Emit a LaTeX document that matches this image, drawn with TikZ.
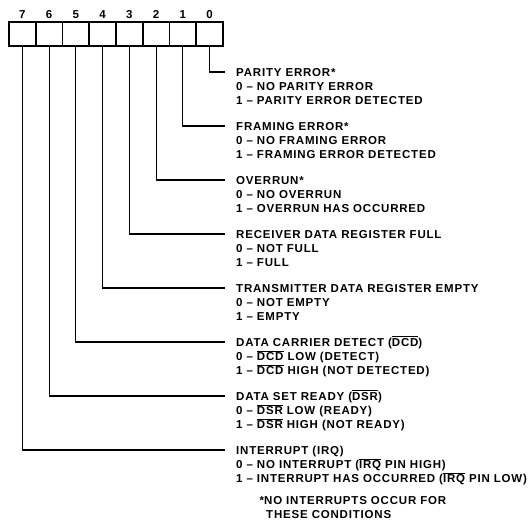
\documentclass[tikz,border=0pt]{standalone}
\usepackage{fontspec}
\setmainfont{Liberation Sans}[LetterSpace=7]
\usetikzlibrary{positioning}

\newcommand{\notsig}[1]{$\smash{\overline{\mbox{#1}}}$}

\begin{document}
\begin{tikzpicture}[
            x=1pt, y=-1pt,
            every node/.style={font=\bfseries\fontsize{11.5}{14}\selectfont},
            bitbox/.style={draw, line width=1.8pt, minimum width=26.75pt, minimum height=24pt, inner sep=0pt, outer sep=0pt},
            head/.style={anchor=west, inner sep=0pt, text height=8pt, text depth=0pt},
            opts/.style={align=left, inner sep=0pt},
            wire/.style={line width=1.2pt, shorten >=11pt}
        ]
            \useasboundingbox (0,0) rectangle (528,522);

            % Status register, bit 7 on the left
            \foreach \b in {0,...,7} {
                \node[bitbox] (b\b) at ({9+26.75*(7.5-\b)}, 34) {};
                \node[above=3pt of b\b, inner sep=0pt] (n\b) {\b};
            }

            % Bit meanings
            \node[head] (h0) at (236,72) {PARITY ERROR*};
            \node[opts, below=6pt of h0.south west, anchor=north west] (o0) {0 -- NO PARITY ERROR\\1 -- PARITY ERROR DETECTED};

            \node[head] (h1) at (236,126) {FRAMING ERROR*};
            \node[opts, below=6pt of h1.south west, anchor=north west] (o1) {0 -- NO FRAMING ERROR\\1 -- FRAMING ERROR DETECTED};

            \node[head] (h2) at (236,180) {OVERRUN*};
            \node[opts, below=6pt of h2.south west, anchor=north west] (o2) {0 -- NO OVERRUN\\1 -- OVERRUN HAS OCCURRED};

            \node[head] (h3) at (236,234) {RECEIVER DATA REGISTER FULL};
            \node[opts, below=6pt of h3.south west, anchor=north west] (o3) {0 -- NOT FULL\\1 -- FULL};

            \node[head] (h4) at (236,288) {TRANSMITTER DATA REGISTER EMPTY};
            \node[opts, below=6pt of h4.south west, anchor=north west] (o4) {0 -- NOT EMPTY\\1 -- EMPTY};

            \node[head] (h5) at (236,342) {DATA CARRIER DETECT (\notsig{DCD})};
            \node[opts, below=6pt of h5.south west, anchor=north west] (o5) {0 -- \notsig{DCD} LOW (DETECT)\\1 -- \notsig{DCD} HIGH (NOT DETECTED)};

            \node[head] (h6) at (236,396) {DATA SET READY (\notsig{DSR})};
            \node[opts, below=6pt of h6.south west, anchor=north west] (o6) {0 -- \notsig{DSR} LOW (READY)\\1 -- \notsig{DSR} HIGH (NOT READY)};

            \node[head] (h7) at (236,450) {INTERRUPT (IRQ)};
            \node[opts, below=6pt of h7.south west, anchor=north west] (o7) {0 -- NO INTERRUPT (\notsig{IRQ} PIN HIGH)\\1 -- INTERRUPT HAS OCCURRED (\notsig{IRQ} PIN LOW)};

            % Footnote
            \node[opts, anchor=north west] (note) at (264,496) {\llap{*}NO INTERRUPTS OCCUR FOR\\\hspace{2pt}THESE CONDITIONS};

            % Bit lines
            \foreach \b in {0,...,7}
                \draw[wire] (b\b.south) |- (h\b.west);
        \end{tikzpicture}
\end{document}
